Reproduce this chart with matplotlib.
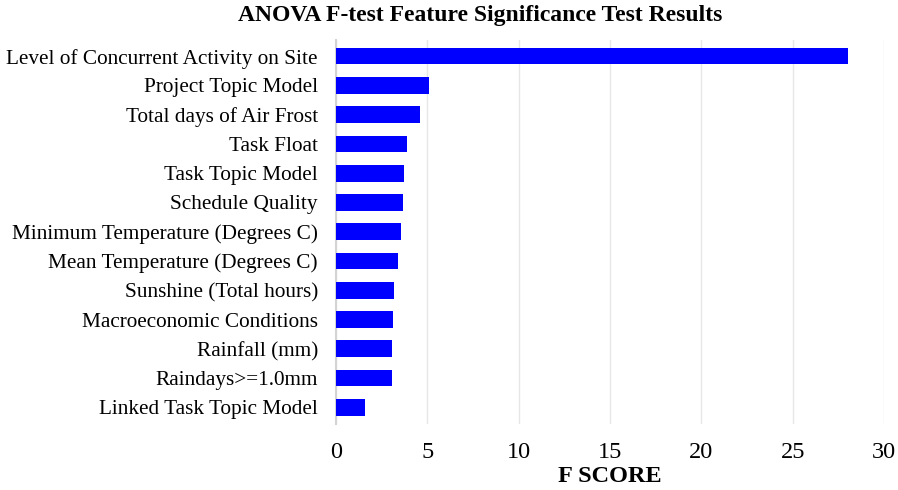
import matplotlib.pyplot as plt

# ANOVA F-test scores per feature (top to bottom as shown)
features = [
    "Level of Concurrent Activity on Site",
    "Project Topic Model",
    "Total days of Air Frost",
    "Task Float",
    "Task Topic Model",
    "Schedule Quality",
    "Minimum Temperature (Degrees C)",
    "Mean Temperature (Degrees C)",
    "Sunshine (Total hours)",
    "Macroeconomic Conditions",
    "Rainfall (mm)",
    "Raindays>=1.0mm",
    "Linked Task Topic Model",
]
f_scores = [28.04, 5.10, 4.62, 3.89, 3.72, 3.65, 3.58, 3.41, 3.19, 3.14, 3.07, 3.07, 1.60]
x_ticks = [0, 5, 10, 15, 20, 25, 30]

plt.rcParams["font.family"] = ["Liberation Serif", "DejaVu Serif"]

fig = plt.figure(figsize=(8.98, 4.9), dpi=100)
ax = fig.add_axes([336 / 898, 1 - 424 / 490, 548 / 898, 384 / 490])

ypos = list(range(len(features)))
ax.barh(ypos, f_scores, height=0.57, color="#0000FF", zorder=3)

ax.set_ylim(len(features) - 0.43, -0.55)
ax.set_xlim(0, 30)
ax.set_xticks(x_ticks)
ax.set_yticks(ypos)
ax.set_yticklabels(features, fontsize=15.3)
ax.tick_params(axis="x", labelsize=17.5, length=0, pad=13)
ax.tick_params(axis="y", length=0, pad=13)

ax.grid(axis="x", color="#e6e6e6", linewidth=1, zorder=0)
for s in ["top", "right", "bottom"]:
    ax.spines[s].set_visible(False)
ax.spines["left"].set_color("#d4d4d4")
ax.spines["left"].set_linewidth(1.5)

ax.set_xlabel("F SCORE", fontsize=17.5, fontweight="bold", labelpad=2)
fig.suptitle("ANOVA F-test Feature Significance Test Results",
             fontsize=17, fontweight="bold", x=480 / 898, y=0.99)

fig.savefig("out.png", dpi=100)
